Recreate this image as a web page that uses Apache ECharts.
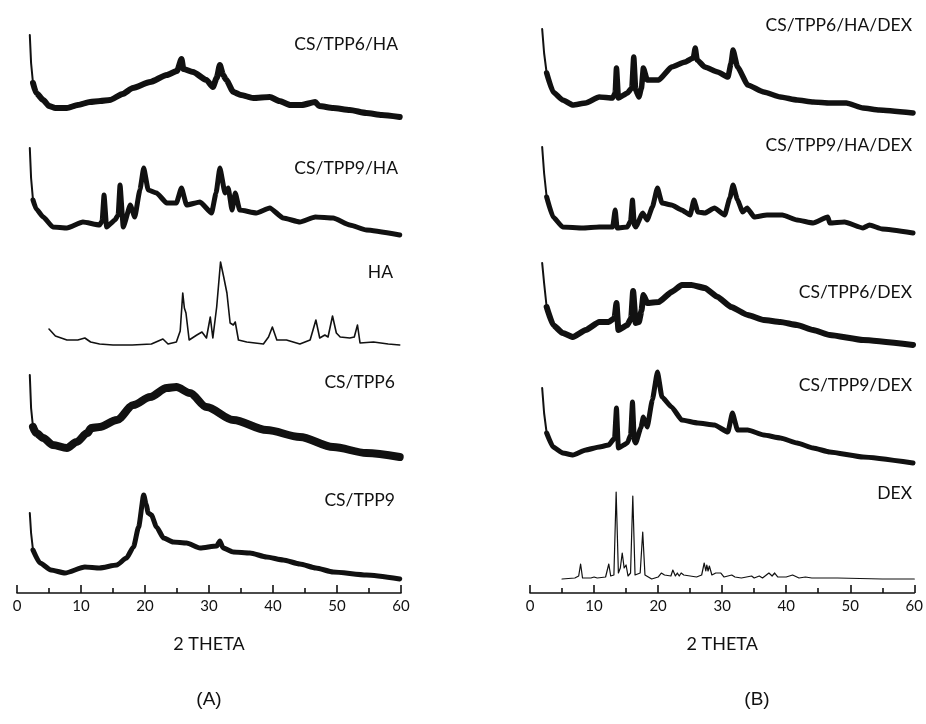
<!DOCTYPE html>
<html>
<head>
<meta charset="utf-8">
<script src="https://cdn.jsdelivr.net/npm/echarts@6/dist/echarts.min.js"></script>
<style>
  html, body { margin: 0; padding: 0; background: #fff; }
  #chart { width: 926px; height: 724px; }
</style>
</head>
<body>
<div id="chart"></div>
<script>
// 2 theta (deg) vs. relative intensity (stacked, arbitrary units)

// panel A
const csTpp6Ha = [[2,558],[2.2,530],[2.5,510],[3,500],[4.1,493],[5,487],[6,485],[7.8,485],[9.5,488],[11.4,491],[13,492],[14.5,493],[16.5,499],[18.1,505],[20.8,511],[23.4,518],[25,522],[25.7,534],[26,524],[27.5,521],[29.6,513],[30.6,506],[31.2,515],[31.7,528],[32.2,518],[32.7,513],[33.8,501],[35,498],[36.9,495],[39.5,496],[41,492],[42.7,488],[44.5,488],[46.6,491],[47.2,487],[49.4,485],[52,483],[54.6,480],[57,478],[59.8,476]]
const csTpp9Ha = [[2,445],[2.2,415],[2.5,393],[3,384],[4.1,376],[5.6,366],[7.8,365],[10.3,371],[12.9,368],[13.3,372],[13.6,398],[14,366],[15.3,373],[15.8,378],[16.1,408],[16.6,366],[17.7,388],[18.4,376],[19.2,403],[19.8,425],[20.5,403],[21.8,400],[23.4,390],[24.9,390],[25.7,405],[26.5,388],[28.6,391],[30.4,380],[31.1,400],[31.7,425],[32.5,400],[33,405],[33.6,383],[34.1,400],[34.8,383],[37.4,380],[39.5,385],[41.6,375],[44.2,371],[46.6,376],[49.4,375],[52,368],[54.6,363],[59.8,358]]
const ha = [[5,264],[6,257],[7.8,253],[9.5,253],[10.6,255],[11.5,251],[12.9,249],[15,248],[18,248],[21,249],[22.8,254],[23.6,249],[24.9,251],[25.5,262],[25.9,300],[26.15,285],[26.4,280],[26.9,253],[28.1,258],[28.9,261],[29.6,255],[30.2,276],[30.6,255],[31.2,286],[31.8,331],[32.3,316],[32.8,300],[33.3,270],[33.8,268],[34.1,271],[34.6,253],[35.9,251],[38.5,249],[39.3,256],[39.9,266],[40.6,253],[42.1,253],[44.2,249],[45.8,253],[46.7,273],[47.3,255],[48.1,258],[48.6,256],[49.3,277],[49.9,260],[50.5,256],[52,255],[52.7,256],[53.2,268],[53.6,250],[55.7,251],[58,249],[59.8,248]]
const csTpp6 = [[2,218],[2.2,185],[2.5,166],[3,160],[4.1,155],[5.6,148],[7.8,145],[9.3,151],[11,160],[11.6,165],[12.9,166],[15.6,173],[18.2,188],[20.8,196],[23.4,205],[24.9,206],[27,200],[29.6,186],[33.8,173],[39,163],[44.2,156],[49.4,146],[54.6,140],[59.8,136]]
const csTpp9 = [[2,80],[2.2,60],[2.5,43],[3.6,30],[5.3,23],[7.5,20],[10.6,26],[12.9,25],[15.6,28],[17.1,35],[18.2,46],[19,66],[19.8,98],[20.2,88],[20.5,80],[21,78],[21.8,66],[22.9,55],[24.4,51],[26.5,50],[28.6,45],[31.2,47],[31.7,52],[32.2,45],[33.8,41],[36.4,40],[39,36],[41.6,33],[44.2,29],[46.7,25],[49.4,21],[54.6,18],[59.8,14]]

// panel B
const csTpp6HaDex = [[1.9,564],[2.2,540],[2.6,520],[3.6,501],[5.1,493],[6.7,488],[8.7,490],[10.8,496],[12.9,495],[13.3,500],[13.5,525],[13.8,495],[15.2,500],[15.9,505],[16.2,536],[16.5,503],[17,496],[17.4,505],[17.7,525],[18.3,513],[20.1,513],[22.1,526],[24.2,531],[25.5,535],[25.8,545],[26.1,533],[27.3,526],[29.3,521],[30.9,516],[31.4,530],[31.7,543],[32.4,526],[34,508],[36.5,501],[39.1,496],[41.7,493],[44.2,491],[46.8,490],[49.4,490],[52,485],[54.5,483],[59.8,480]]
const csTpp9HaDex = [[1.9,446],[2.2,420],[2.6,396],[3.6,376],[5.1,366],[8.2,365],[10.8,366],[12.9,366],[13.3,383],[13.6,365],[15.2,366],[15.7,372],[16,393],[16.3,368],[16.5,366],[17.6,380],[18.3,373],[19.1,386],[19.9,405],[20.6,390],[22.1,388],[23.7,383],[25,378],[25.6,393],[26.2,381],[27.3,380],[28.8,385],[30.4,378],[31.2,395],[31.7,408],[32.4,393],[33.2,381],[33.9,385],[35,376],[37,378],[39.4,378],[41.7,373],[44.2,370],[46.5,376],[46.8,370],[49.1,371],[52,365],[53,368],[55,364],[59.8,360]]
const csTpp6Dex = [[1.9,330],[2.2,310],[2.6,286],[3.6,268],[5.1,260],[6.7,256],[8.7,263],[10.8,271],[12.3,271],[13.2,275],[13.5,290],[13.8,263],[15.2,268],[15.8,275],[16.1,302],[16.5,270],[17,271],[17.4,282],[17.7,298],[18.3,290],[20.1,291],[22.1,301],[23.7,308],[25.2,308],[27.3,305],[29.3,296],[31.4,286],[34,278],[36.5,273],[39.1,271],[41.7,268],[44.2,263],[46.8,258],[52,253],[59.8,248]]
const csTpp9Dex = [[1.9,205],[2.2,180],[2.6,160],[3.6,146],[5.1,140],[6.7,138],[8.7,143],[10.8,146],[12.3,148],[13.2,155],[13.5,185],[13.8,145],[15.2,150],[15.7,158],[16,191],[16.3,152],[16.5,150],[17.3,165],[17.7,176],[18.3,166],[19.1,193],[19.9,221],[20.6,196],[22.1,186],[23.7,173],[26.2,170],[28.8,168],[30.9,161],[31.6,180],[32.4,163],[34,163],[36.5,158],[39.1,155],[41.7,150],[44.2,145],[46.8,141],[52,136],[59.8,130]]
const dex = [[5,14],[7,15],[7.6,17],[7.9,29],[8.2,15],[9.5,15],[10,16],[10.5,15],[11.8,16],[12.3,29],[12.6,17],[13.1,18],[13.45,101],[13.8,20],[14.1,25],[14.4,40],[14.7,25],[15,28],[15.3,17],[15.7,20],[16.05,97],[16.4,18],[17.2,20],[17.6,61],[17.95,18],[19,14],[20,16],[20.5,20],[21,18],[22,17],[22.3,23],[22.7,17],[23,20],[23.3,17],[23.6,20],[24,18],[25,17],[26,16],[26.8,18],[27.2,30],[27.45,22],[27.6,28],[27.8,22],[28,27],[28.4,18],[29,20],[29.3,21],[29.8,20],[30.3,16],[31.5,18],[32,16],[33,15],[34.6,17],[35,15],[35.8,17],[36.3,15],[37.3,20],[37.8,17],[38.2,20],[38.7,16],[40,16],[41,18],[42,15],[43,16],[44,15],[45,15],[48,15],[55,14],[60,14]]

// w = visual thickness of the noisy band
const seriesA = [
  { name: 'CS/TPP6/HA', data: csTpp6Ha, w: 6, smooth: 0.2 },
  { name: 'CS/TPP9/HA', data: csTpp9Ha, w: 5, smooth: 0.15 },
  { name: 'HA', data: ha, w: 1.6, smooth: false },
  { name: 'CS/TPP6', data: csTpp6, w: 8, smooth: 0.3 },
  { name: 'CS/TPP9', data: csTpp9, w: 5, smooth: 0.2 },
]
const seriesB = [
  { name: 'CS/TPP6/HA/DEX', data: csTpp6HaDex, w: 5.5, smooth: 0.15 },
  { name: 'CS/TPP9/HA/DEX', data: csTpp9HaDex, w: 5, smooth: 0.15 },
  { name: 'CS/TPP6/DEX', data: csTpp6Dex, w: 6, smooth: 0.15 },
  { name: 'CS/TPP9/DEX', data: csTpp9Dex, w: 5, smooth: 0.15 },
  { name: 'DEX', data: dex, w: 1.2, smooth: false },
]

const labelFont = 'Lato'
const makeAxis = (gridIndex) => ({
  type: 'value',
  gridIndex: gridIndex,
  min: 0,
  max: 60,
  interval: 10,
  name: '2 THETA',
  nameLocation: 'middle',
  nameGap: 42,
  nameTextStyle: { fontFamily: labelFont, fontSize: 18, color: '#111' },
  axisLine: { show: true, onZero: false, lineStyle: { color: '#111', width: 1.6 } },
  axisTick: { show: true, inside: true, length: 8, lineStyle: { color: '#111', width: 1.6 } },
  minorTick: { show: true, splitNumber: 2, length: 5, lineStyle: { color: '#111', width: 1.6 } },
  axisLabel: { fontFamily: labelFont, fontSize: 15, color: '#111', margin: 6 },
  splitLine: { show: false },
})
const makeY = (gridIndex) => ({
  type: 'value', gridIndex: gridIndex, min: 0, max: 580, show: false,
  splitLine: { show: false },
})

const lineSeries = (name, data, idx, width, smooth) => ({
  name: name,
  type: 'line',
  xAxisIndex: idx,
  yAxisIndex: idx,
  data: data,
  smooth: smooth,
  smoothMonotone: 'x',
  showSymbol: false,
  symbol: 'none',
  lineStyle: { color: '#111', width: width, join: 'round', cap: 'round' },
  animation: false,
})

// the steep low-angle rise is a thin line; the noisy part is drawn as a wide band
const toSeries = (list, idx) => list.flatMap(s => {
  if (s.w < 2) return [lineSeries(s.name, s.data, idx, s.w, s.smooth)]
  const cut = s.data.findIndex(p => p[0] > 2.6)
  return [
    lineSeries(s.name, s.data.slice(0, cut + 1), idx, 2, false),
    lineSeries(s.name, s.data.slice(cut - 1), idx, s.w, s.smooth),
  ]
})

const labelsA = [['CS/TPP6/HA', 398, 44], ['CS/TPP9/HA', 398, 168], ['HA', 393, 272], ['CS/TPP6', 395, 382], ['CS/TPP9', 395, 500]]
const labelsB = [['CS/TPP6/HA/DEX', 912, 25], ['CS/TPP9/HA/DEX', 912, 145], ['CS/TPP6/DEX', 912, 292], ['CS/TPP9/DEX', 912, 385], ['DEX', 912, 493]]

const textEl = (t, x, y, size, font, align) => ({
  type: 'text', x: x, y: y,
  style: { text: t, fill: '#111', font: size + 'px ' + font, align: align, verticalAlign: 'middle' },
})

const myChart = echarts.init(document.getElementById('chart'), null, { renderer: 'canvas' })
const option = {
  backgroundColor: '#fff',
  animation: false,
  grid: [
    { left: 17, right: 525, top: 13, bottom: 131 },
    { left: 530, right: 7, top: 13, bottom: 131 },
  ],
  xAxis: [makeAxis(0), makeAxis(1)],
  yAxis: [makeY(0), makeY(1)],
  series: [...toSeries(seriesA, 0), ...toSeries(seriesB, 1)],
  graphic: [
    ...labelsA.map(l => textEl(l[0], l[1], l[2], 17.5, labelFont, 'right')),
    ...labelsB.map(l => textEl(l[0], l[1], l[2], 17.5, labelFont, 'right')),
    textEl('(A)', 209, 700, 19, '"Liberation Sans"', 'center'),
    textEl('(B)', 757, 700, 19, '"Liberation Sans"', 'center'),
  ],
}
option && myChart.setOption(option)
</script>
</body>
</html>
